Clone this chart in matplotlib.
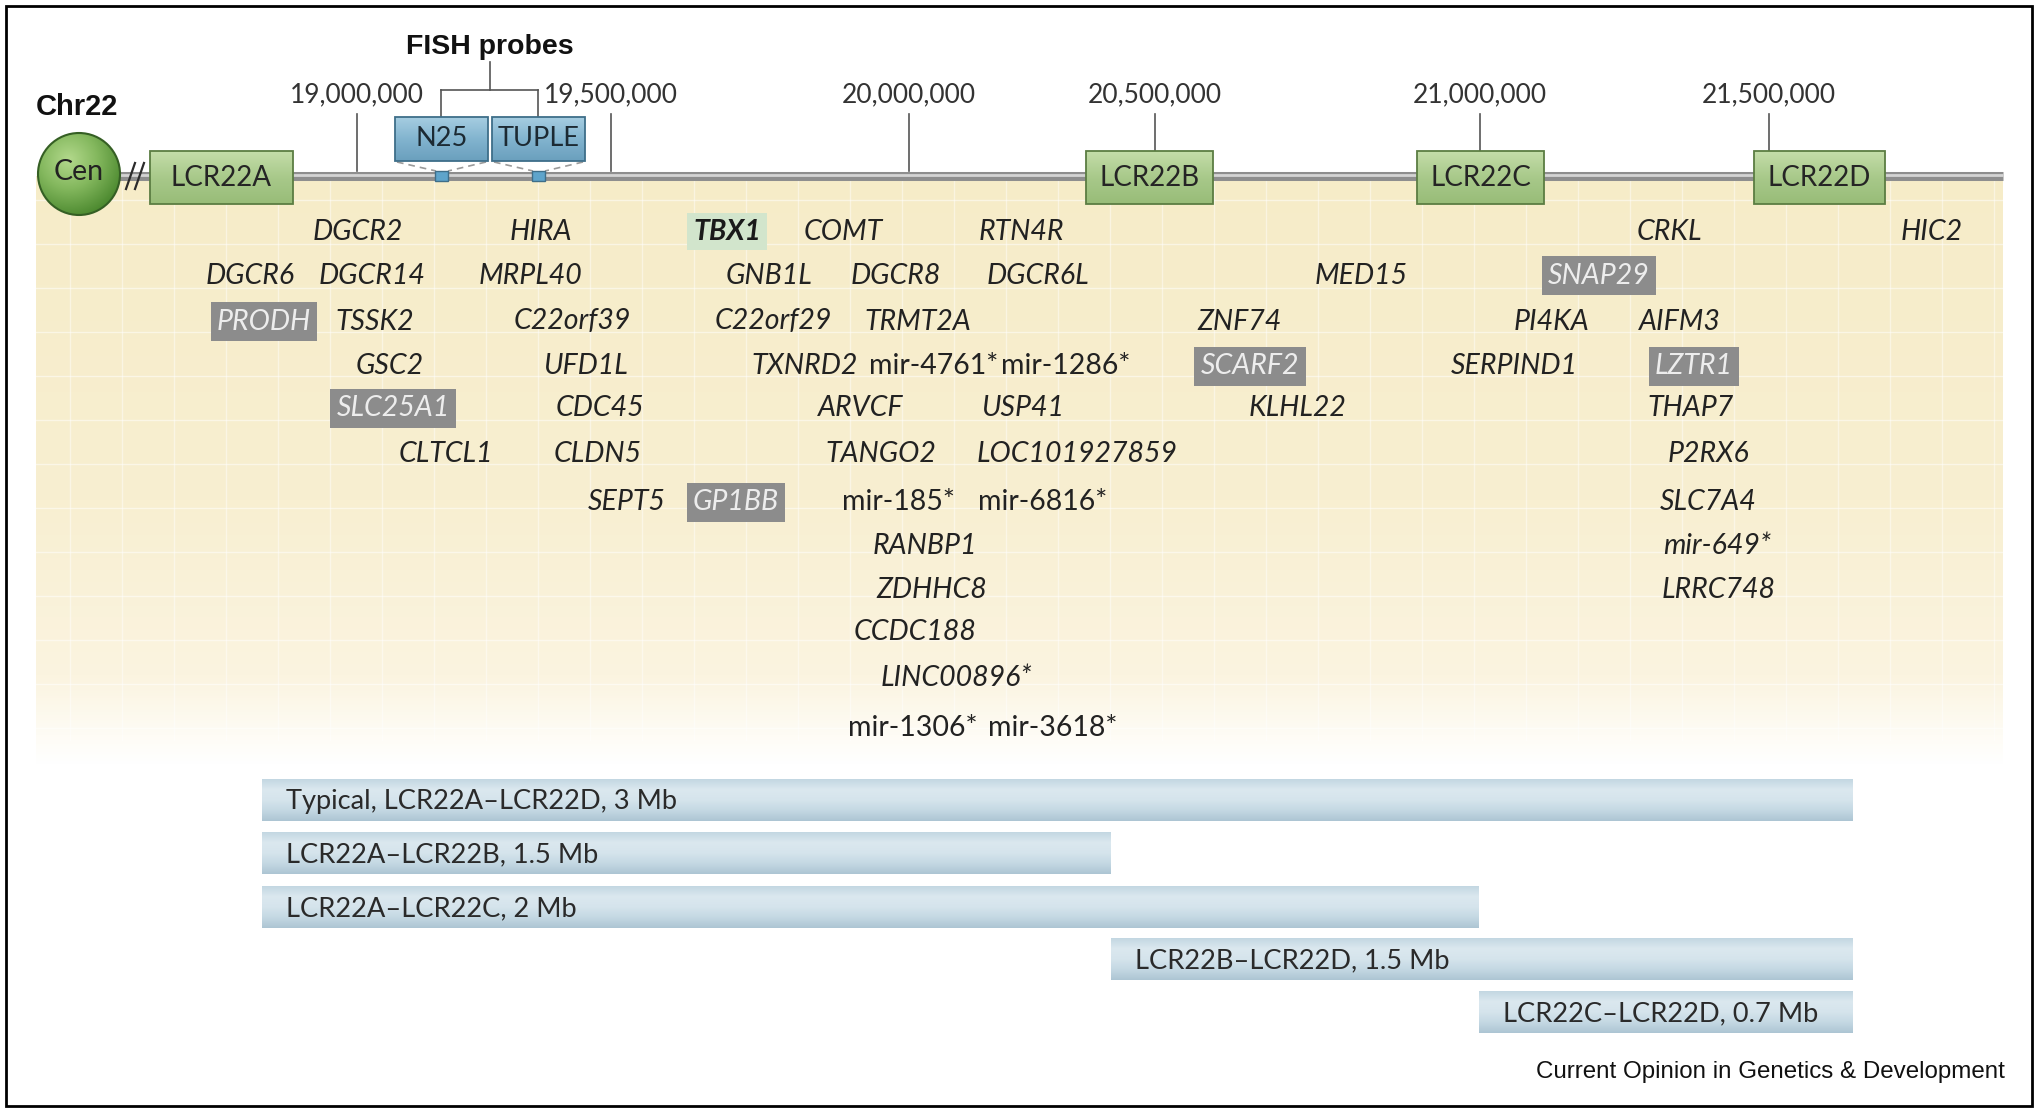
import numpy as np
import matplotlib.pyplot as plt
from matplotlib.patches import Rectangle, Circle
from matplotlib.colors import LinearSegmentedColormap

plt.rcParams['font.family'] = ['Lato', 'DejaVu Sans']

# ruler ticks along chromosome 22 (schematic positions)
tick_labels = ['19,000,000', '19,500,000', '20,000,000', '20,500,000', '21,000,000', '21,500,000']
tick_x = [357, 611, 909, 1155, 1480, 1769]
tick_end = [171, 171, 171, 151, 151, 151]

# low copy repeats
lcr_names = ['LCR22A', 'LCR22B', 'LCR22C', 'LCR22D']
lcr_left = [150, 1086, 1417, 1754]
lcr_right = [293, 1213, 1544, 1885]

# FISH probes
probe_names = ['N25', 'TUPLE']
probe_left = [395, 492]
probe_right = [488, 585]
probe_site = [442, 539]

# genes: name, x, row
gene_names = ['DGCR2', 'HIRA', 'TBX1', 'COMT', 'RTN4R', 'CRKL', 'HIC2',
              'DGCR6', 'DGCR14', 'MRPL40', 'GNB1L', 'DGCR8', 'DGCR6L', 'MED15', 'SNAP29',
              'PRODH', 'TSSK2', 'C22orf39', 'C22orf29', 'TRMT2A', 'ZNF74', 'PI4KA', 'AIFM3',
              'GSC2', 'UFD1L', 'TXNRD2', 'mir-4761*', 'mir-1286*', 'SCARF2', 'SERPIND1', 'LZTR1',
              'SLC25A1', 'CDC45', 'ARVCF', 'USP41', 'KLHL22', 'THAP7',
              'CLTCL1', 'CLDN5', 'TANGO2', 'LOC101927859', 'P2RX6',
              'SEPT5', 'GP1BB', 'mir-185*', 'mir-6816*', 'SLC7A4',
              'RANBP1', 'mir-649*',
              'ZDHHC8', 'LRRC748',
              'CCDC188',
              'LINC00896*',
              'mir-1306*', 'mir-3618*']
gene_x = [358, 541, 727, 843, 1021, 1669, 1932,
          250, 372, 530, 769, 896, 1038, 1361, 1599,
          264, 375, 572, 773, 918, 1240, 1551, 1680,
          390, 585, 805, 934, 1066, 1250, 1514, 1694,
          393, 600, 861, 1023, 1298, 1691,
          446, 598, 881, 1077, 1708,
          627, 736, 898, 1043, 1708,
          925, 1717,
          932, 1719,
          915,
          956,
          913, 1053]
gene_row = [0] * 7 + [1] * 8 + [2] * 8 + [3] * 8 + [4] * 6 + [5] * 5 + [6] * 5 + [7] * 2 + [8] * 2 + [9] + [10] + [11] * 2
row_y = [229, 273, 319, 364, 406, 451, 500, 544, 588, 630, 675, 726]
grey_genes = ['PRODH', 'SLC25A1', 'GP1BB', 'SCARF2', 'SNAP29', 'LZTR1']
green_genes = ['TBX1']
upright_genes = ['mir-4761*', 'mir-1286*', 'mir-185*', 'mir-6816*', 'mir-1306*', 'mir-3618*']

# deletions between LCR breakpoints
breakpoints = {'A': 262, 'B': 1111, 'C': 1479, 'D': 1853}
del_labels = ['Typical, LCR22A\u2013LCR22D, 3 Mb', 'LCR22A\u2013LCR22B, 1.5 Mb', 'LCR22A\u2013LCR22C, 2 Mb',
              'LCR22B\u2013LCR22D, 1.5 Mb', 'LCR22C\u2013LCR22D, 0.7 Mb']
del_start = ['A', 'A', 'A', 'B', 'C']
del_end = ['D', 'B', 'C', 'D', 'D']
del_y = [800, 853, 907, 959, 1012]

fig = plt.figure(figsize=(20.4, 11.11), dpi=100)
ax = fig.add_axes([0, 0, 1, 1])
ax.axis('off')


def gradient(x0, x1, y0, y1, colors, z):
    g = np.linspace(0, 1, 128).reshape(-1, 1)
    cm = LinearSegmentedColormap.from_list('g', colors)
    return ax.imshow(g, extent=(x0, x1, y1, y0), cmap=cm, aspect='auto', zorder=z, interpolation='bilinear')


# yellow gene panel, fading to white at the bottom
panel = np.linspace(0, 1, 256).reshape(-1, 1)
ycm = LinearSegmentedColormap.from_list('y', [(0, '#f6ecc8'), (0.55, '#f8efd1'), (0.85, '#fbf4e0'), (0.95, '#fefcf5'), (1, '#ffffff')])
ax.imshow(panel, extent=(36, 2003, 765, 176), cmap=ycm, aspect='auto', zorder=0)
for yy in np.arange(200, 760, 44):
    ax.plot([36, 2003], [yy, yy], color='white', lw=1, alpha=0.5, zorder=0.5)
for xx in np.arange(70, 2003, 52):
    ax.plot([xx, xx], [180, 740], color='white', lw=1, alpha=0.45, zorder=0.5)

# chromosome
ax.plot([110, 2003], [176, 176], color='#8e8e8e', lw=6.5, solid_capstyle='butt', zorder=2)
ax.plot([110, 2003], [175, 175], color='#d4d4d4', lw=2, solid_capstyle='butt', zorder=2.1)
for dx in (0, 9):
    ax.plot([126 + dx, 135 + dx], [189, 163], color='#2b2b2b', lw=1.6, zorder=3)

# centromere
cx, cy, r = 79, 174, 41
cen = Circle((cx, cy), r, fc='none', ec='#355f24', lw=1.5, zorder=6)
ax.add_patch(cen)
gx, gy = np.meshgrid(np.linspace(-1, 1, 200), np.linspace(-1, 1, 200))
d = np.sqrt((gx + 0.25) ** 2 + (gy + 0.35) ** 2)
ccm = LinearSegmentedColormap.from_list('c', ['#b3d98c', '#84b85e', '#4d8a30'])
im = ax.imshow(d, extent=(cx - r, cx + r, cy + r, cy - r), cmap=ccm, aspect='auto', zorder=5, vmin=0, vmax=1.4)
im.set_clip_path(cen)
ax.text(cx, cy - 2, 'Cen', ha='center', va='center', fontsize=20.5, color='#222222', zorder=7)

# ruler
for lab, x, yb in zip(tick_labels, tick_x, tick_end):
    ax.plot([x, x], [114, yb], color='#555555', lw=1.2, zorder=1.5)
    ax.text(x, 95, lab, ha='center', va='center', fontsize=19, color='#333333')

# LCR boxes
for name, x0, x1 in zip(lcr_names, lcr_left, lcr_right):
    gradient(x0, x1, 151, 204, ['#c4dda9', '#a8c98a', '#98bc78'], 4)
    ax.add_patch(Rectangle((x0, 151), x1 - x0, 53, fc='none', ec='#5b7d42', lw=1.3, zorder=4.5))
    ax.text((x0 + x1) / 2, 178, name, ha='center', va='center', fontsize=20, color='#252525', zorder=5)

# FISH probes
ax.text(490, 47, 'FISH probes', ha='center', va='center', fontsize=20.5, fontweight='bold',
        family=['Liberation Sans', 'DejaVu Sans'], color='#111111')
ax.text(36, 107, 'Chr22', ha='left', va='center', fontsize=21, fontweight='bold',
        family=['Liberation Sans', 'DejaVu Sans'], color='#111111')
pc = [(a + b) / 2 for a, b in zip(probe_left, probe_right)]
ax.plot([490, 490], [62, 90], color='#555555', lw=1.2)
ax.plot([pc[0], pc[1]], [90, 90], color='#555555', lw=1.2)
for name, x0, x1, s, c in zip(probe_names, probe_left, probe_right, probe_site, pc):
    ax.plot([c, c], [90, 117], color='#555555', lw=1.2)
    gradient(x0, x1, 117, 161, ['#a6cde1', '#82b4cf', '#6a9fbd'], 4)
    ax.add_patch(Rectangle((x0, 117), x1 - x0, 44, fc='none', ec='#3e6e89', lw=1.3, zorder=4.5))
    ax.text(c, 139, name, ha='center', va='center', fontsize=19.5, color='#1c2a33', zorder=5)
    ax.plot([x0 + 2, s - 6], [162, 171], color='#9a9a9a', lw=1.2, ls=(0, (4, 3)), zorder=3)
    ax.plot([x1 - 2, s + 6], [162, 171], color='#9a9a9a', lw=1.2, ls=(0, (4, 3)), zorder=3)
    ax.add_patch(Rectangle((s - 6.5, 171), 13, 10, fc='#5ea4cb', ec='#3e6e89', lw=1, zorder=3))

# gene labels
for name, x, row in zip(gene_names, gene_x, gene_row):
    y = row_y[row]
    style = 'normal' if name in upright_genes else 'italic'
    kw = dict(ha='center', va='center_baseline', fontsize=20.5, style=style, color='#222222', zorder=3)
    if name in grey_genes:
        kw.update(color='#ededed', bbox=dict(boxstyle='square,pad=0.22', fc='#8c8c8c', ec='none'))
    elif name in green_genes:
        kw.update(fontweight='bold', color='#1a1a1a', bbox=dict(boxstyle='square,pad=0.2', fc='#d2e5cc', ec='none'))
    ax.text(x, y, name, **kw)

# deletion bars
starts = [breakpoints[s] for s in del_start]
widths = [breakpoints[e] - breakpoints[s] for s, e in zip(del_start, del_end)]
bars = ax.barh(del_y, widths, left=starts, height=42, color='none', zorder=2)
for bar, lab in zip(bars, del_labels):
    x0, y0 = bar.get_x(), bar.get_y()
    gradient(x0, x0 + bar.get_width(), y0, y0 + bar.get_height(),
             ['#c3d7e2', '#dbe8ef', '#d5e4ec', '#c4d8e3', '#adc5d3'], 1.5)
    ax.text(x0 + 24, y0 + bar.get_height() / 2 - 1, lab, ha='left', va='center_baseline',
            fontsize=19.6, color='#2a2a2a', zorder=3)

ax.text(2005, 1072, 'Current Opinion in Genetics & Development', ha='right', va='center',
        fontsize=17.4, family=['Liberation Sans', 'DejaVu Sans'], color='#111111')

ax.add_patch(Rectangle((6, 6), 2026, 1100, fc='none', ec='black', lw=2, zorder=10))

ax.set_xlim(0, 2040)
ax.set_ylim(1111, 0)
fig.savefig('out.png', dpi=100)
